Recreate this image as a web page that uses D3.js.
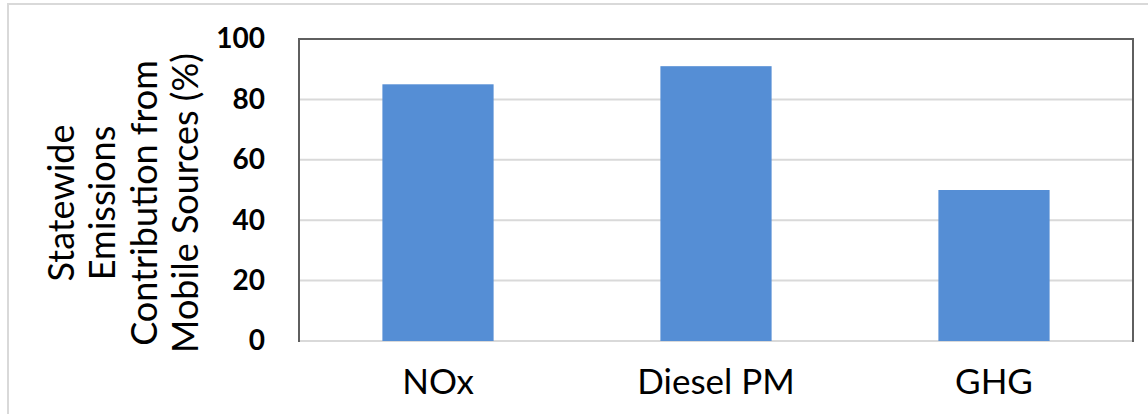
<!DOCTYPE html>
<html>
<head>
<meta charset="utf-8">
<script src="https://cdn.jsdelivr.net/npm/d3@7"></script>
<style>
  body { margin: 0; background: #fff; }
  svg { display: block; font-family: Lato, "Open Sans", sans-serif; }
</style>
</head>
<body>
<script>
// data
const categories = ['NOx', 'Diesel PM', 'GHG']
const values = [85, 91, 50]
const yTicks = [0, 20, 40, 60, 80, 100]
const titleLines = ['Statewide', 'Emissions', 'Contribution from', 'Mobile Sources (%)']

const width = 1148
const height = 414
const plot = { left: 299, right: 1133, top: 39, bottom: 341 }

const svg = d3.select('body')
  .append('svg')
  .attr('width', width)
  .attr('height', height)

// outer frame
svg.append('rect')
  .attr('x', 8)
  .attr('y', 4)
  .attr('width', width + 20)
  .attr('height', height + 20)
  .attr('fill', 'none')
  .attr('stroke', '#d9d9d9')
  .attr('stroke-width', 2)

const xScale = d3.scaleBand()
  .domain(categories)
  .range([plot.left, plot.right])
  .paddingInner(0.6)
  .paddingOuter(0.3)

const yScale = d3.scaleLinear()
  .domain([0, 100])
  .range([plot.bottom, plot.top])

// gridlines
svg.append('g')
  .selectAll('line')
  .data(yTicks)
  .enter()
  .append('line')
  .attr('x1', plot.left)
  .attr('x2', plot.right)
  .attr('y1', d => yScale(d))
  .attr('y2', d => yScale(d))
  .attr('stroke', '#d9d9d9')
  .attr('stroke-width', 2)

// bars
svg.append('g')
  .selectAll('rect')
  .data(values)
  .enter()
  .append('rect')
  .attr('x', (d, i) => xScale(categories[i]))
  .attr('y', d => yScale(d))
  .attr('width', xScale.bandwidth())
  .attr('height', d => yScale(0) - yScale(d))
  .attr('fill', '#558ed5')

// plot border (left, top, right)
svg.append('path')
  .attr('d', `M${plot.left},${plot.bottom + 1}V${plot.top}H${plot.right}V${plot.bottom + 1}`)
  .attr('fill', 'none')
  .attr('stroke', '#5f5f5f')
  .attr('stroke-width', 2)

// y axis
const yAxis = d3.axisLeft(yScale)
  .tickValues(yTicks)
  .tickSize(0)
  .tickPadding(34)

const yG = svg.append('g')
  .attr('transform', `translate(${plot.left}, 0)`)
  .call(yAxis)
yG.select('.domain').remove()
yG.selectAll('text')
  .attr('font-family', 'Lato, sans-serif')
  .attr('font-size', 28)
  .attr('font-weight', 'bold')
  .attr('fill', '#000')

// x axis
const xAxis = d3.axisBottom(xScale)
  .tickSize(0)
  .tickPadding(28)

const xG = svg.append('g')
  .attr('transform', `translate(0, ${plot.bottom})`)
  .call(xAxis)
xG.select('.domain').remove()
xG.selectAll('text')
  .attr('font-family', 'Lato, sans-serif')
  .attr('font-size', 35)
  .attr('fill', '#000')

// y axis title
svg.append('text')
  .attr('transform', 'translate(0, 203) rotate(-90)')
  .attr('text-anchor', 'middle')
  .attr('font-size', 36)
  .attr('fill', '#000')
  .selectAll('tspan')
  .data(titleLines)
  .enter()
  .append('tspan')
  .attr('x', 0)
  .attr('y', (d, i) => 74 + i * 41.3)
  .text(d => d)
</script>
</body>
</html>
